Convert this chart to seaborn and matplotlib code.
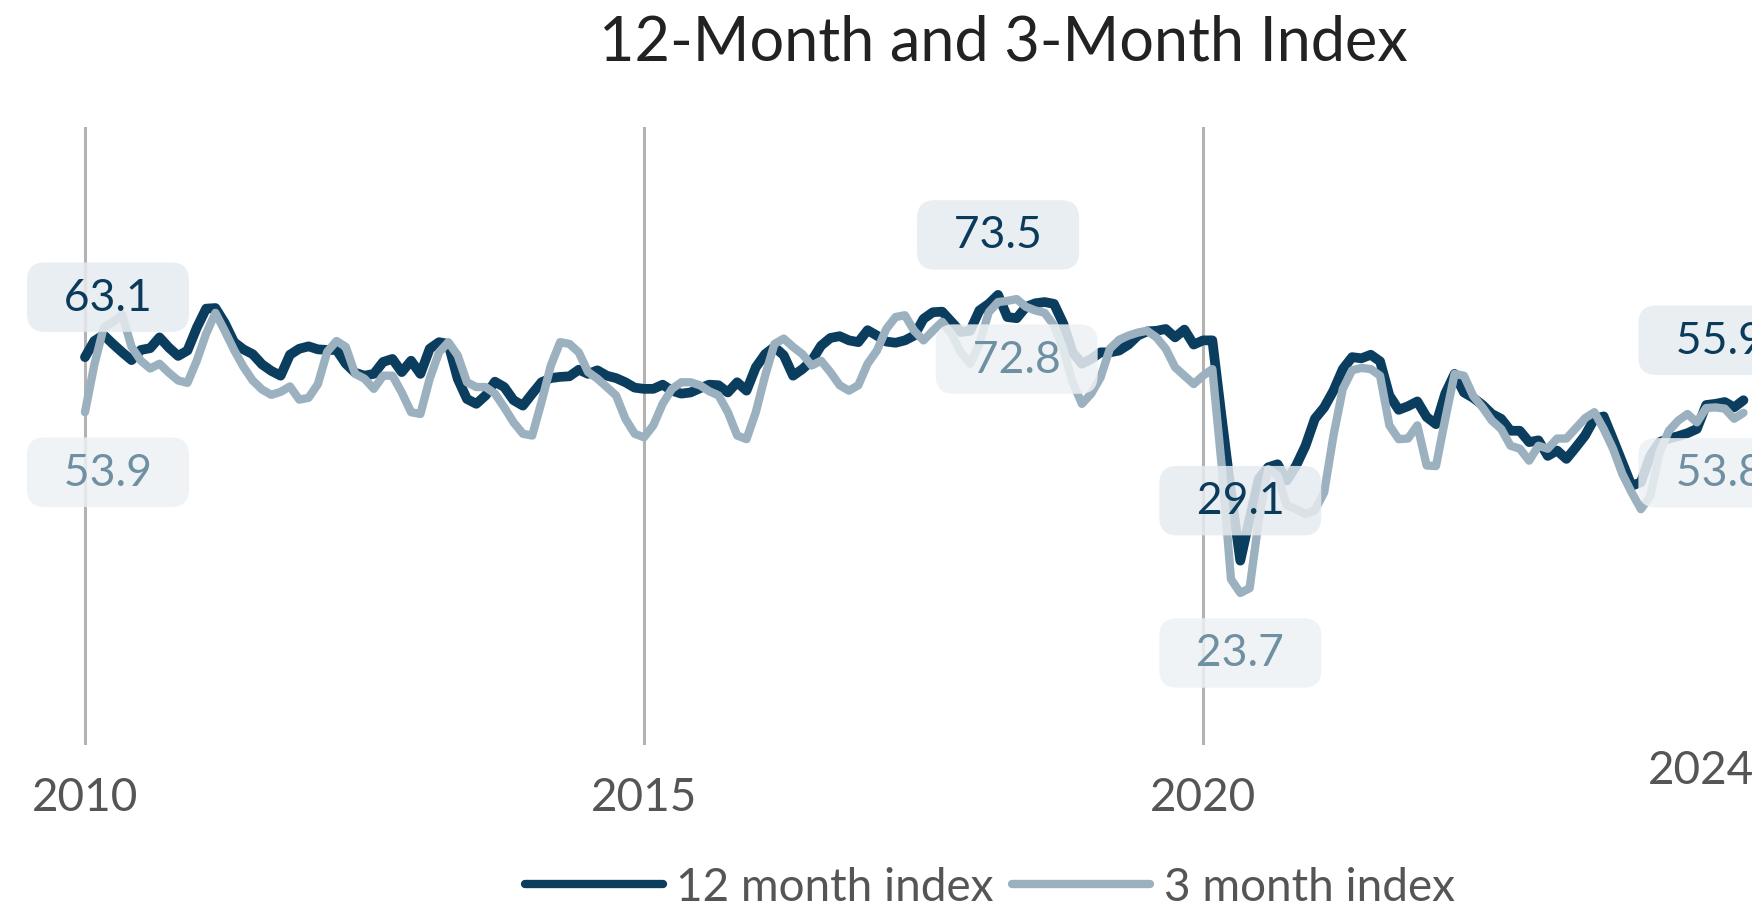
import numpy as np
import pandas as pd
import matplotlib.pyplot as plt
import seaborn as sns

# monthly readings, Jan 2010 .. Nov 2024
twelve_month = [
    63.1, 65.8, 66.8, 65.3, 63.9, 62.6, 64.3, 64.6, 66.4, 64.7, 63.3, 64.2,
    68.0, 71.2, 71.3, 68.8, 65.6, 64.4, 63.6, 61.9, 60.8, 60.0, 63.5, 64.5,
    64.9, 64.4, 64.3, 64.3, 62.0, 60.5, 60.0, 60.3, 62.3, 62.8, 60.6, 62.5,
    60.3, 64.5, 65.6, 65.3, 59.5, 56.1, 55.3, 56.7, 59.0, 58.1, 55.9, 55.0,
    57.0, 58.9, 59.6, 59.8, 59.9, 61.0, 60.3, 60.9, 60.0, 59.6, 58.9, 58.0,
    57.8, 57.8, 58.5, 57.5, 57.0, 57.2, 57.9, 58.5, 58.4, 57.2, 58.9, 57.5,
    61.4, 63.6, 64.8, 63.4, 60.0, 61.1, 62.5, 65.0, 66.3, 66.6, 65.9, 65.6,
    67.6, 66.7, 65.7, 65.5, 65.9, 66.7, 69.5, 70.6, 70.7, 69.0, 67.3, 67.5,
    70.9, 72.0, 73.5, 69.8, 69.6, 71.5, 72.1, 72.3, 72.0, 68.7, 63.9, 62.0,
    62.8, 63.9, 63.9, 64.2, 65.2, 66.7, 67.4, 67.5, 67.8, 66.4, 67.7, 65.2,
    65.9, 65.9, 53.0, 40.5, 29.1, 36.1, 42.8, 44.7, 45.2, 42.5, 45.0, 48.3,
    52.8, 54.7, 57.5, 61.1, 63.1, 62.9, 63.5, 62.4, 56.7, 54.3, 54.9, 55.7,
    53.1, 51.9, 57.0, 60.3, 57.2, 56.3, 55.1, 53.6, 52.8, 50.8, 50.8, 48.9,
    49.2, 46.6, 47.5, 46.1, 48.0, 50.0, 52.8, 53.2, 49.4, 45.5, 41.6, 42.2,
    46.6, 48.9, 49.5, 49.9, 50.4, 51.1, 55.1, 55.3, 55.6, 54.7, 55.9,
]
three_month = [
    53.9, 61.8, 68.0, 69.0, 70.2, 64.8, 62.5, 61.2, 62.0, 60.5, 59.2, 58.8,
    62.5, 67.0, 70.5, 67.5, 64.3, 61.5, 59.2, 57.7, 56.8, 57.3, 58.2, 56.0,
    56.3, 58.6, 64.0, 65.8, 64.8, 60.3, 59.5, 57.8, 60.0, 60.0, 57.2, 53.9,
    53.6, 59.5, 63.9, 65.6, 63.4, 58.9, 58.1, 58.1, 57.0, 54.7, 52.2, 50.3,
    50.0, 55.6, 61.7, 65.6, 65.3, 63.9, 60.6, 59.5, 58.1, 56.7, 52.8, 50.3,
    49.7, 51.7, 55.3, 57.8, 58.9, 58.9, 58.4, 57.4, 56.7, 53.9, 50.0, 49.4,
    53.9, 60.0, 65.3, 66.2, 64.8, 63.6, 61.7, 62.5, 60.6, 58.4, 57.5, 58.4,
    62.0, 64.2, 67.8, 69.8, 70.1, 67.5, 65.9, 67.5, 69.0, 67.0, 63.9, 62.0,
    65.3, 70.6, 72.3, 72.5, 72.8, 71.5, 70.9, 70.5, 68.4, 64.5, 58.9, 55.3,
    57.0, 59.7, 64.5, 66.0, 66.7, 67.2, 67.5, 66.4, 64.5, 61.4, 60.0, 58.6,
    60.0, 61.1, 45.0, 26.0, 23.7, 24.5, 36.1, 44.4, 43.3, 38.3, 37.7, 36.9,
    37.5, 40.5, 50.0, 57.8, 60.9, 61.3, 61.1, 60.0, 51.7, 49.4, 49.5, 51.7,
    45.0, 44.9, 52.8, 60.3, 60.0, 56.6, 54.7, 52.5, 51.1, 48.3, 47.8, 45.8,
    48.3, 47.8, 49.5, 49.5, 51.2, 52.9, 53.9, 51.1, 47.8, 43.6, 40.5, 37.7,
    39.9, 47.2, 50.8, 52.5, 53.6, 52.2, 54.6, 54.7, 54.5, 52.8, 53.8,
]
tick_years = [2010, 2015, 2020]

DARK = "#0b3d5e"
LIGHT = "#9bb1bf"
DARK_TXT = "#0b3b5a"
LIGHT_TXT = "#6f8fa3"

sns.set_theme(style="white")
plt.rcParams["font.family"] = ["Lato", "DejaVu Sans"]

months = np.arange(len(twelve_month))
df = pd.DataFrame({
    "year": 2010 + months / 12,
    "12 month index": twelve_month,
    "3 month index": three_month,
})

fig = plt.figure(figsize=(17.52, 9.12), dpi=100)
ax = fig.add_axes([0, 0.182, 1, 0.678])

for yr in tick_years:
    ax.axvline(yr, color="#b3b3b3", lw=2.2, zorder=1)

sns.lineplot(data=df, x="year", y="12 month index", color=DARK, lw=7,
             ax=ax, label="12 month index", zorder=3)
sns.lineplot(data=df, x="year", y="3 month index", color=LIGHT, lw=6,
             ax=ax, label="3 month index", zorder=4)

ax.set_xlim(2009.24, 2024.91)
ax.set_ylim(-1.7, 101.6)
ax.set_xticks(tick_years)
ax.set_xticklabels([str(y) for y in tick_years])
ax.tick_params(axis="x", length=6, width=1.5, color="#b3b3b3", pad=16,
               labelsize=33, labelcolor="#555555")
ax.set_yticks([])
ax.set_xlabel("")
ax.set_ylabel("")
for s in ax.spines.values():
    s.set_visible(False)

ax.text(2024.45, -0.04, "2024", transform=ax.get_xaxis_transform(),
        ha="center", va="center", fontsize=33, color="#555555")


def tag(series, idx, up, dx):
    v = series[idx]
    fc = "#e6ebf0" if up else "#edf1f4"
    col = DARK_TXT if up else LIGHT_TXT
    ax.annotate(f"  {v:.1f}  ", xy=(2010 + idx / 12, v),
                xytext=(dx, 60 if up else -60), textcoords="offset pixels",
                ha="center", va="center", fontsize=32, color=col, zorder=6,
                bbox=dict(boxstyle="round,pad=0.32,rounding_size=0.4",
                          fc=fc, ec="none", alpha=0.85))


n = len(twelve_month) - 1
tag(twelve_month, 0, True, 23)
tag(three_month, 0, False, 23)
tag(twelve_month, int(np.argmax(twelve_month)), True, 0)
tag(three_month, int(np.argmax(three_month)), False, 0)
tag(twelve_month, int(np.argmin(twelve_month)), True, 0)
tag(three_month, int(np.argmin(three_month)), False, 0)
tag(twelve_month, n, True, -24)
tag(three_month, n, False, -24)

fig.text(0.5725, 0.953, "12-Month and 3-Month Index", ha="center",
         va="center", fontsize=44, color="#222222")

leg = ax.legend(loc="center", bbox_to_anchor=(0.565, 0.026),
                bbox_transform=fig.transFigure, ncol=2, frameon=False,
                fontsize=33, handlelength=3.0, handletextpad=0.3,
                columnspacing=0.4, labelcolor="#555555")
for line in leg.get_lines():
    line.set_linewidth(6)

fig.savefig("out.png", dpi=100)
